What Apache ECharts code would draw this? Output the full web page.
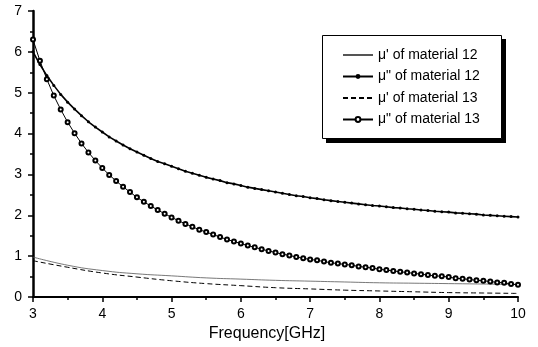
<!DOCTYPE html>
<html>
<head>
<meta charset="utf-8">
<script src="https://cdn.jsdelivr.net/npm/echarts@6/dist/echarts.min.js"></script>
<style>html,body{margin:0;padding:0;background:#fff}#c{width:538px;height:347px}</style>
</head>
<body>
<div id="c"></div>
<script>
// Frequency grid (GHz) for the marker series, 0.1 GHz apart
const freqFine = [3.0,3.1,3.2,3.3,3.4,3.5,3.6,3.7,3.8,3.9,4.0,4.1,4.2,4.3,4.4,4.5,4.6,4.7,4.8,4.9,
  5.0,5.1,5.2,5.3,5.4,5.5,5.6,5.7,5.8,5.9,6.0,6.1,6.2,6.3,6.4,6.5,6.6,6.7,6.8,6.9,
  7.0,7.1,7.2,7.3,7.4,7.5,7.6,7.7,7.8,7.9,8.0,8.1,8.2,8.3,8.4,8.5,8.6,8.7,8.8,8.9,
  9.0,9.1,9.2,9.3,9.4,9.5,9.6,9.7,9.8,9.9,10.0];
// Frequency grid for the plain line series
const freqCoarse = [3.0,3.5,4.0,4.5,5.0,5.5,6.0,6.5,7.0,7.5,8.0,8.5,9.0,9.5,10.0];

// mu'' of material 12
const muPP12 = [6.00,5.69,5.42,5.18,4.96,4.77,4.60,4.44,4.29,4.16,4.04,3.92,3.82,3.72,3.63,3.55,3.47,3.39,3.32,3.26,
  3.20,3.14,3.08,3.03,2.98,2.93,2.89,2.85,2.80,2.77,2.73,2.69,2.66,2.63,2.60,2.57,2.54,2.51,2.48,2.46,
  2.43,2.41,2.38,2.36,2.34,2.32,2.30,2.28,2.26,2.24,2.23,2.21,2.19,2.18,2.16,2.15,2.13,2.12,2.10,2.09,
  2.08,2.06,2.05,2.04,2.03,2.01,2.00,1.99,1.98,1.97,1.96];
// mu'' of material 13
const muPP13 = [6.30,5.78,5.33,4.93,4.59,4.28,4.01,3.76,3.54,3.34,3.16,2.99,2.84,2.70,2.57,2.44,2.33,2.23,2.13,2.04,
  1.95,1.87,1.79,1.72,1.65,1.59,1.53,1.47,1.41,1.36,1.31,1.26,1.22,1.17,1.13,1.09,1.05,1.02,0.98,0.95,
  0.92,0.90,0.87,0.84,0.82,0.80,0.78,0.75,0.73,0.71,0.68,0.66,0.64,0.62,0.60,0.58,0.56,0.54,0.52,0.51,
  0.49,0.46,0.45,0.43,0.41,0.40,0.38,0.36,0.35,0.32,0.30];
// mu' of material 12
const muP12 = [0.98,0.78,0.65,0.57,0.52,0.47,0.44,0.41,0.39,0.37,0.35,0.34,0.33,0.32,0.31];
// mu' of material 13
const muP13 = [0.89,0.73,0.59,0.49,0.40,0.33,0.28,0.23,0.20,0.17,0.15,0.13,0.11,0.10,0.09];

const seriesNames = ["\u03bc' of material 12", "\u03bc\" of material 12", "\u03bc' of material 13", "\u03bc\" of material 13"];
const xTicks = [3,4,5,6,7,8,9,10];
const yTicks = [0,1,2,3,4,5,6,7];
const xName = 'Frequency[GHz]';

const zip = (xs, ys) => xs.map((x, i) => [x, ys[i]]);
const font = 'Liberation Sans';

const chart = echarts.init(document.getElementById('c'), null, {renderer: 'canvas'});
chart.setOption({
  animation: false,
  backgroundColor: '#fff',
  grid: {left: 33, right: 20, top: 11, bottom: 47, containLabel: false},
  xAxis: {
    type: 'value', min: xTicks[0], max: xTicks[xTicks.length - 1], interval: 1,
    name: xName, nameLocation: 'middle', nameGap: 26,
    nameTextStyle: {fontFamily: font, fontSize: 16, color: '#000', padding: [0, 17, 0, 0]},
    axisLine: {show: true, lineStyle: {color: '#000', width: 2}},
    axisTick: {show: true, length: 5, lineStyle: {color: '#000', width: 1.5}},
    minorTick: {show: true, splitNumber: 2, length: 3, lineStyle: {color: '#000', width: 1.5}},
    axisLabel: {fontFamily: font, fontSize: 14, color: '#000', margin: 10},
    splitLine: {show: false}
  },
  yAxis: {
    type: 'value', min: yTicks[0], max: yTicks[yTicks.length - 1], interval: 1,
    axisLine: {show: true, onZero: false, lineStyle: {color: '#000', width: 2.5}},
    axisTick: {show: true, length: 5, lineStyle: {color: '#000', width: 1.5}},
    minorTick: {show: true, splitNumber: 2, length: 3, lineStyle: {color: '#000', width: 1.5}},
    axisLabel: {fontFamily: font, fontSize: 14, color: '#000', margin: 11},
    splitLine: {show: false}
  },
  graphic: {
    elements: [
      {type: 'rect', id: 'legendShadow', z: 5, left: 326, top: 39,
       shape: {x: 0, y: 0, width: 180, height: 104},
       style: {fill: '#000'}},
      {type: 'rect', id: 'legendBox', z: 6, left: 322, top: 35,
       shape: {x: 0.5, y: 0.5, width: 179, height: 103},
       style: {fill: '#fff', stroke: '#000', lineWidth: 1}}
    ]
  },
  legend: {
    orient: 'vertical', left: 342, top: 48, z: 10,
    padding: 0, itemGap: 7.5, itemWidth: 30, itemHeight: 6,
    textStyle: {fontFamily: font, fontSize: 14, color: '#000'},
    data: [
      {name: seriesNames[0], itemStyle: {opacity: 0}},
      {name: seriesNames[1]},
      {name: seriesNames[2], itemStyle: {opacity: 0}},
      {name: seriesNames[3]}
    ]
  },
  series: [
    {
      name: seriesNames[0], type: 'line', data: zip(freqCoarse, muP12), smooth: true,
      showSymbol: false, symbol: 'none',
      lineStyle: {color: '#555', width: 0.8}, itemStyle: {color: '#555'}
    },
    {
      name: seriesNames[1], type: 'line', data: zip(freqFine, muPP12),
      symbol: 'circle', symbolSize: 3, showAllSymbol: true,
      lineStyle: {color: '#000', width: 1.6}, itemStyle: {color: '#000'}
    },
    {
      name: seriesNames[2], type: 'line', data: zip(freqCoarse, muP13), smooth: true,
      showSymbol: false, symbol: 'none',
      lineStyle: {color: '#000', width: 1, type: [5, 3]}, itemStyle: {color: '#000'}
    },
    {
      name: seriesNames[3], type: 'line', data: zip(freqFine, muPP13),
      symbol: 'emptyCircle', symbolSize: 4, showAllSymbol: true,
      lineStyle: {color: '#000', width: 1}, itemStyle: {color: '#000', borderWidth: 0.8}
    }
  ]
});
</script>
</body>
</html>
